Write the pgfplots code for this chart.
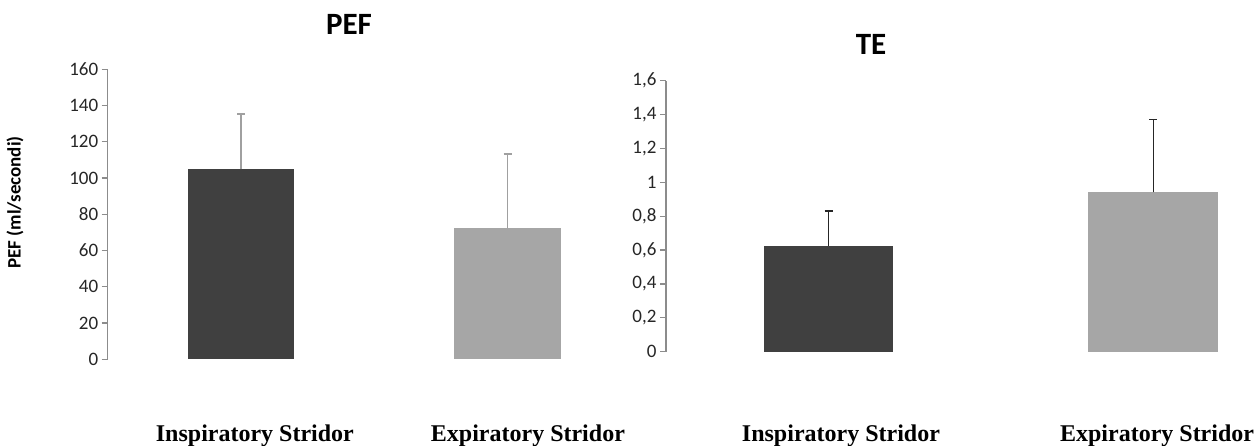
\documentclass[border=0pt]{standalone}
\usepackage{pgfplots}
\pgfplotsset{compat=1.18}
\usepackage{fontspec}
\setmainfont{Carlito}
\newfontfamily\serifb{Liberation Serif}
\definecolor{darkbar}{HTML}{404040}
\definecolor{lightbar}{HTML}{A6A6A6}
\definecolor{axgray}{HTML}{8C8C8C}
\definecolor{errgray}{HTML}{A0A0A0}
\tikzset{catlab/.style={font=\fontsize{24}{28}\selectfont\serifb\bfseries, anchor=center}}
\pgfplotsset{
  common/.style={
    scale only axis,
    axis x line=none,
    axis y line*=left,
    axis line style={axgray, line width=1.2pt},
    ymin=0,
    xmin=-0.5,
    xtick=\empty,
    tick align=outside,
    major tick length=6pt,
    ytick style={axgray, line width=1.2pt},
    /pgf/number format/assume math mode=true,
    tick label style={font=\fontsize{19}{22}\selectfont, text=black!85},
    ybar,
    bar width=0.4,
    bar shift=0pt,
    clip=false,
    title style={font=\fontsize{31}{34}\selectfont\bfseries, anchor=center},
  },
}
\begin{document}
\begin{tikzpicture}[x=1pt,y=1pt]
\path[use as bounding box] (0,0) rectangle (1259,446);
% PEF
\begin{axis}[common,
  at={(107.7pt,86.7pt)}, anchor=south west,
  width=533.3pt, height=290pt,
  xmax=1.5, ymax=160,
  ytick={0,20,40,60,80,100,120,140,160},
  title={PEF},
  title style={at={(axis description cs:0.4525,1.1355)}},
  ylabel={PEF (ml/secondi)},
  ylabel style={at={(axis description cs:-0.174,0.541)}, anchor=center, font=\fontsize{19}{22}\selectfont\bfseries},
  error bars/y dir=plus, error bars/y explicit,
  error bars/error bar style={errgray, line width=1.5pt},
  error bars/error mark options={errgray, line width=1.5pt, mark size=4pt, rotate=90},
]
\addplot[fill=darkbar, draw=none] coordinates {(0,104.8) +- (0,30.5)};
\addplot[fill=lightbar, draw=none] coordinates {(1,72.3) +- (0,41.0)};
\node[catlab] at (axis description cs:0.276,-0.2645) {Inspiratory Stridor};
\node[catlab] at (axis description cs:0.788,-0.2645) {Expiratory Stridor};
\end{axis}
% TE
\begin{axis}[common,
  at={(666pt,94.3pt)}, anchor=south west,
  width=593.1pt, height=271pt,
  xmax=1.325, ymax=1.6,
  ytick={0,0.2,0.4,0.6,0.8,1,1.2,1.4,1.6},
  /pgf/number format/use comma,
  title={TE},
  title style={at={(axis description cs:0.3457,1.113)}},
  error bars/y dir=plus, error bars/y explicit,
  error bars/error bar style={black!85, line width=1.5pt},
  error bars/error mark options={black!85, line width=1.5pt, mark size=4pt, rotate=90},
]
\addplot[fill=darkbar, draw=none] coordinates {(0,0.626) +- (0,0.204)};
\addplot[fill=lightbar, draw=none] coordinates {(1,0.941) +- (0,0.429)};
\node[catlab] at (axis description cs:0.295,-0.311) {Inspiratory Stridor};
\node[catlab] at (axis description cs:0.828,-0.311) {Expiratory Stridor};
\end{axis}
\end{tikzpicture}
\end{document}
